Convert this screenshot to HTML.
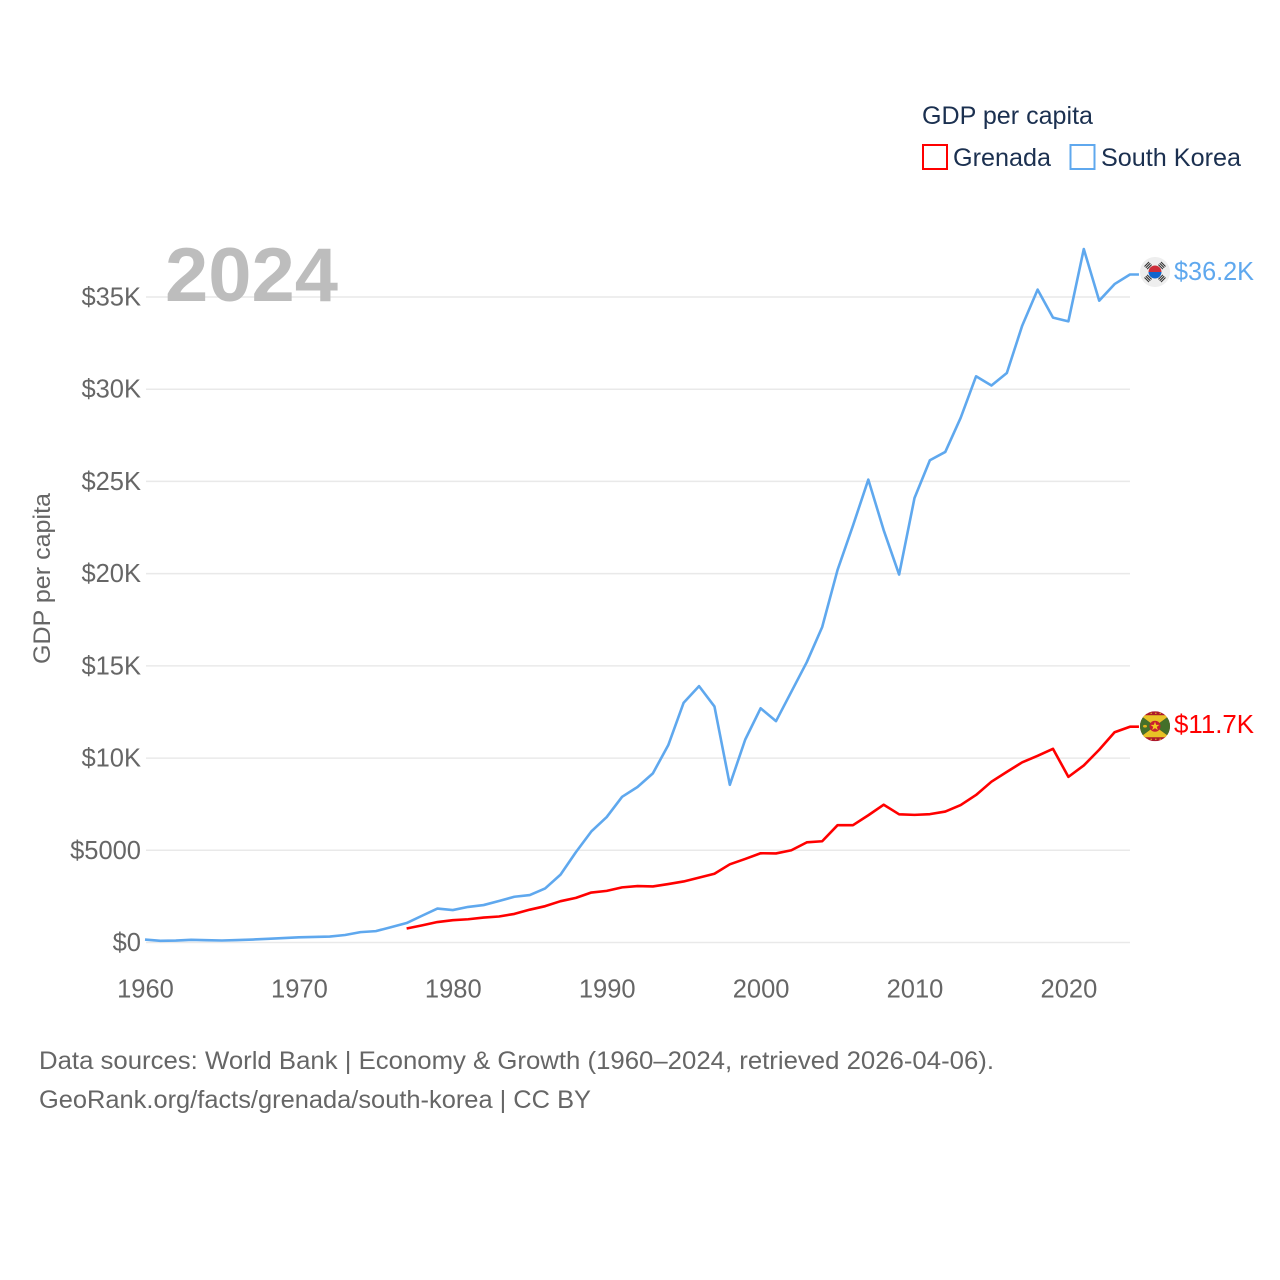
<!DOCTYPE html>
<html lang="en">
<head>
<meta charset="utf-8">
<title>GDP per capita: Grenada and South Korea</title>
<style>
html,body{margin:0;padding:0;background:#fff;width:1280px;height:1280px;overflow:hidden}
svg{display:block;font-family:"Liberation Sans",Arial,sans-serif}
</style>
</head>
<body>
<svg id="chart" width="1280" height="1280" viewBox="0 0 1280 1280" xmlns="http://www.w3.org/2000/svg">
  <rect width="1280" height="1280" fill="#fff"/>
  <g id="grid"></g>
  <g id="yticks"></g>
  <g id="xticks"></g>
  <text x="165" y="301" font-size="76" font-weight="bold" fill="#bdbdbd" textLength="173" lengthAdjust="spacingAndGlyphs">2024</text>
  <text transform="translate(50,664) rotate(-90)" font-size="24.5" fill="#666" textLength="171" lengthAdjust="spacingAndGlyphs">GDP per capita</text>
  <g id="series"></g>
  <g id="flag-korea">
    <clipPath id="clip-kr"><circle cx="0" cy="0" r="15"/></clipPath>
    <g clip-path="url(#clip-kr)">
      <rect x="-15" y="-15" width="30" height="30" fill="#eeeeee"/>
      <path d="M-6.5 0A6.5 6.5 0 0 1 6.5 0Z" fill="#cd2e3a"/>
      <path d="M-6.5 0A6.5 6.5 0 0 0 6.5 0Z" fill="#0f64cd"/>
      <g stroke="#333" stroke-width="1.1">
        <path d="M-10.5 -5.5L-6 -10M-9.2 -4.2L-4.7 -8.7M-7.9 -2.9L-3.4 -7.4"/>
        <path d="M10.500 -5.500L6 -10M9.200 -4.200L4.700 -8.700M7.900 -2.900L3.400 -7.400"/>
        <path d="M-10.500 5.500L-6 10M-9.200 4.200L-4.700 8.700M-7.900 2.900L-3.400 7.400"/>
        <path d="M10.500 5.500L6 10M9.200 4.200L4.700 8.700M7.900 2.900L3.400 7.400"/>
      </g>
    </g>
  </g>
  <g id="flag-grenada">
    <clipPath id="clip-gd"><circle cx="0" cy="0" r="15"/></clipPath>
    <g clip-path="url(#clip-gd)">
      <rect x="-15" y="-15" width="30" height="30" fill="#ad1a2c"/>
      <polygon points="-15,-11 15,-11 0,0" fill="#e8c326"/>
      <polygon points="-15,11 15,11 0,0" fill="#e8c326"/>
      <polygon points="-15,-11 -15,11 0,0" fill="#44702a"/>
      <polygon points="15,-11 15,11 0,0" fill="#44702a"/>
      <circle cx="0" cy="0" r="5.5" fill="#c8202f"/>
      <polygon points="0,-4.5 1.2,-1.4 4.4,-1.4 1.8,0.6 2.8,3.8 0,1.9 -2.8,3.8 -1.8,0.6 -4.4,-1.4 -1.2,-1.4" fill="#f2c81e"/>
      <ellipse cx="-10" cy="0" rx="2" ry="1.3" fill="#e2b21c"/>
      <path d="M-9 -13H9M-9 13H9" stroke="#e8c326" stroke-width="1" stroke-dasharray="1.5 3"/>
    </g>
  </g>
  <text id="label-korea" x="1174" font-size="25.500" fill="#5fa8ee" textLength="80" lengthAdjust="spacingAndGlyphs"></text>
  <text id="label-grenada" x="1174" font-size="25.500" fill="#ff0000" textLength="80" lengthAdjust="spacingAndGlyphs"></text>
  <g>
    <text x="922" y="124" font-size="25" fill="#1b3050" textLength="171" lengthAdjust="spacingAndGlyphs">GDP per capita</text>
    <g>
      <rect x="923" y="145" width="24" height="24" fill="#fff" stroke="#ff0000" stroke-width="2"/>
      <text x="953" y="166" font-size="25" fill="#1b3050" textLength="98" lengthAdjust="spacingAndGlyphs">Grenada</text>
    </g>
    <g>
      <rect x="1070.500" y="145" width="24" height="24" fill="#fff" stroke="#5fa8ee" stroke-width="2"/>
      <text x="1101" y="166" font-size="25" fill="#1b3050" textLength="140" lengthAdjust="spacingAndGlyphs">South Korea</text>
    </g>
  </g>
  <text x="39" y="1069" font-size="25" fill="#666" textLength="955" lengthAdjust="spacingAndGlyphs">Data sources: World Bank | Economy &amp; Growth (1960–2024, retrieved 2026-04-06).</text>
  <text x="39" y="1108" font-size="25" fill="#666" textLength="552" lengthAdjust="spacingAndGlyphs">GeoRank.org/facts/grenada/south-korea | CC BY</text>
</svg>
<script>
var koreaStartYear = 1960;
var grenadaStartYear = 1977;
var koreaValues = [158,93,106,146,123,108,133,161,198,243,279,301,324,406,563,617,834,1055,1450,1840,1760,1930,2030,2250,2480,2570,2930,3680,4900,6020,6800,7900,8430,9170,10700,13000,13900,12800,8550,11000,12700,12000,13600,15200,17100,20200,22600,25100,22350,19950,24100,26150,26600,28450,30700,30200,30880,33450,35400,33880,33680,37600,34800,35700,36220];
var grenadaValues = [760,930,1110,1210,1260,1350,1410,1550,1780,1970,2240,2420,2710,2800,2990,3060,3040,3170,3310,3520,3730,4240,4530,4840,4830,5000,5430,5490,6360,6360,6900,7470,6950,6920,6960,7100,7450,8000,8720,9250,9770,10120,10500,8980,9600,10450,11400,11700];
var yTickValues = [0,5000,10000,15000,20000,25000,30000,35000];
var yTickLabels = ["$0","$5000","$10K","$15K","$20K","$25K","$30K","$35K"];
var xTickValues = [1960,1970,1980,1990,2000,2010,2020];
var xTickLabels = ["1960","1970","1980","1990","2000","2010","2020"];

var SVGNS = "http://www.w3.org/2000/svg";
function xScale(year) { return 145 + (year - 1960) * 15.39; }
function yScale(v) { return 942.5 - v * 0.018443; }
function make(tag, parent) {
  var el = document.createElementNS(SVGNS, tag);
  parent.appendChild(el);
  return el;
}

var gridGroup = document.getElementById("grid");
var yGroup = document.getElementById("yticks");
var xGroup = document.getElementById("xticks");
var seriesGroup = document.getElementById("series");

yTickValues.forEach(function (v, i) {
  var line = make("line", gridGroup);
  
  
  line.setAttribute("x1", 146);
  line.setAttribute("x2", 1130);
  line.setAttribute("y1", yScale(v));
  line.setAttribute("y2", yScale(v));
  line.setAttribute("stroke", "#e9e9e9");
  line.setAttribute("stroke-width", "1.5");
  var t = make("text", yGroup);
  
  
  t.setAttribute("x", 141);
  t.setAttribute("y", yScale(v) + 8.5);
  t.setAttribute("text-anchor", "end");
  t.setAttribute("font-size", "25.5");
  t.setAttribute("fill", "#666");
  t.textContent = yTickLabels[i];
});

xTickValues.forEach(function (year, i) {
  var t = make("text", xGroup);
  
  
  t.setAttribute("x", xScale(year) + 0.5);
  t.setAttribute("y", 997.5);
  t.setAttribute("text-anchor", "middle");
  t.setAttribute("font-size", "25.5");
  t.setAttribute("fill", "#666");
  t.textContent = xTickLabels[i];
});

function linePath(values, startYear) {
  var d = values.map(function (v, i) {
    return (i ? "L" : "M") + xScale(startYear + i).toFixed(2) + " " + yScale(v).toFixed(2);
  }).join("");
  var last = values[values.length - 1];
  return d + "L" + (xScale(startYear + values.length - 1) + 9).toFixed(2) + " " + yScale(last).toFixed(2);
}
function money(v) { return "$" + (v / 1000).toFixed(1) + "K"; }

var koreaLine = make("path", seriesGroup);


koreaLine.setAttribute("d", linePath(koreaValues, koreaStartYear));
koreaLine.setAttribute("fill", "none");
koreaLine.setAttribute("stroke", "#5fa8ee");
koreaLine.setAttribute("stroke-width", "2.6");
koreaLine.setAttribute("stroke-linejoin", "round");

var grenadaLine = make("path", seriesGroup);


grenadaLine.setAttribute("d", linePath(grenadaValues, grenadaStartYear));
grenadaLine.setAttribute("fill", "none");
grenadaLine.setAttribute("stroke", "#ff0000");
grenadaLine.setAttribute("stroke-width", "2.6");
grenadaLine.setAttribute("stroke-linejoin", "round");

var koreaLast = koreaValues[koreaValues.length - 1];
var grenadaLast = grenadaValues[grenadaValues.length - 1];
document.getElementById("flag-korea").setAttribute("transform", "translate(1155," + (yScale(koreaLast) - 2.5) + ")");
document.getElementById("flag-grenada").setAttribute("transform", "translate(1155," + (yScale(grenadaLast) - 0.5) + ")");
var koreaLabel = document.getElementById("label-korea");
koreaLabel.setAttribute("y", yScale(koreaLast) + 5.5);
koreaLabel.textContent = money(koreaLast);
var grenadaLabel = document.getElementById("label-grenada");
grenadaLabel.setAttribute("y", yScale(grenadaLast) + 6.5);
grenadaLabel.textContent = money(grenadaLast);
</script>
</body>
</html>
